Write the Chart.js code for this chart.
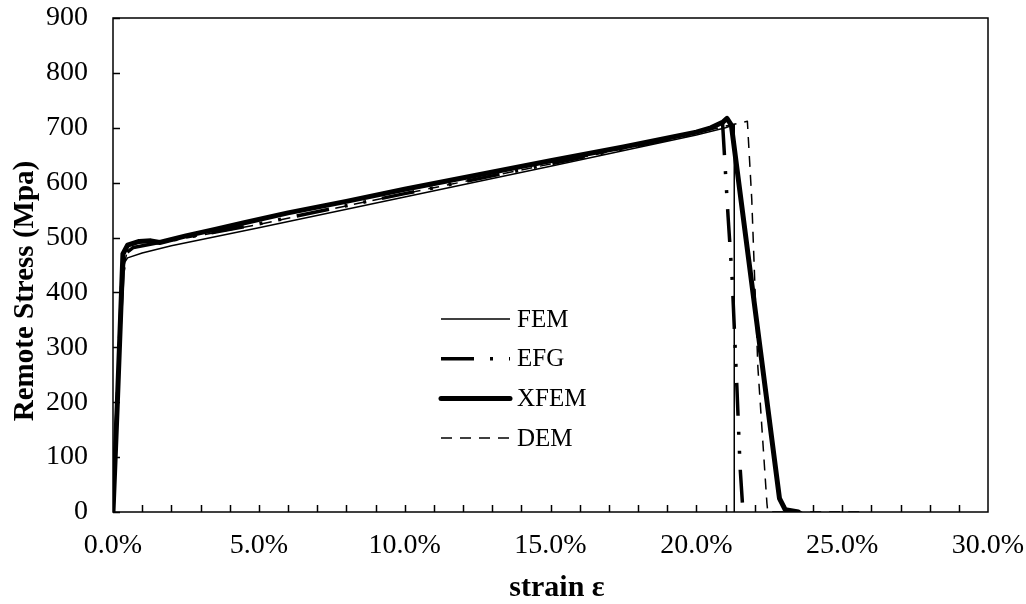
<!DOCTYPE html>
<html lang="en">
<head>
    <meta charset="UTF-8">
    <title>Remote Stress vs strain</title>
    <style>
        body {
            margin: 0;
            padding: 0;
            background-color: #ffffff;
        }
        #wrap {
            width: 1026px;
            height: 604px;
        }
    </style>
</head>
<body>

    <div id="wrap">
        <canvas id="myChart" width="1026" height="604"></canvas>
    </div>

    <script src="https://cdn.jsdelivr.net/npm/chart.js"></script>
    <script>
        // ค่าที่อ่านจากกราฟ (strain เป็น %, stress เป็น MPa)
        const seriesNames = ['FEM', 'EFG', 'XFEM', 'DEM'];

        const femStrain = [0, 0.2, 0.4, 0.5, 1, 2, 5, 10, 15, 20, 21.0, 21.3, 21.3];
        const femStress = [0, 260, 455, 463, 472, 485, 518, 574, 630, 687, 700, 706, 0];

        const efgStrain = [0, 0.3, 0.45, 0.7, 1.5, 3, 5, 10, 15, 20, 20.7, 20.9, 20.95, 21.09, 21.23, 21.39, 21.5, 21.6];
        const efgStress = [0, 420, 472, 482, 490, 505, 525, 580, 634, 690, 703, 708, 663, 537, 423, 228, 82, 0];

        const xfemStrain = [0, 0.15, 0.34, 0.5, 0.9, 1.3, 1.6, 2.5, 3.5, 4.5, 6, 8, 10, 12.5, 15, 17.5, 20, 20.5, 20.9, 21.05, 21.2, 22.85, 23.05, 23.5];
        const xfemStress = [0, 200, 470, 486, 493, 494, 491, 503, 515, 527, 545, 566, 588, 614, 640, 665, 692, 700, 710, 717, 705, 25, 4, 0];

        const demStrain = [0, 0.3, 0.5, 1, 2, 5, 10, 15, 20, 21, 21.75, 21.9, 22.11, 22.42, 22.45, 25.6];
        const demStress = [0, 430, 478, 485, 494, 524, 580, 634, 690, 703, 712, 570, 264, 16, 0, 0];

        const xTicks = [0, 5, 10, 15, 20, 25, 30];
        const yTicks = [0, 100, 200, 300, 400, 500, 600, 700, 800, 900];

        const xTitle = 'strain ε';
        const yTitle = 'Remote Stress (Mpa)';

        const serif = "'Liberation Serif', 'Times New Roman', serif";

        function toPoints(xs, ys) {
            return xs.map((x, i) => ({ x: x, y: ys[i] }));
        }

        const ctx = document.getElementById('myChart').getContext('2d');

        // กรอบ, ขีดสเกล, ชื่อแกน และ legend วาดเอง
        const framePlugin = {
            id: 'frame',
            afterDraw(chart) {
                const c = chart.ctx;
                const area = chart.chartArea;
                const xs = chart.scales.x;
                const ys = chart.scales.y;
                c.save();
                c.strokeStyle = '#000';
                c.fillStyle = '#000';
                c.lineWidth = 1.5;
                c.setLineDash([]);
                c.strokeRect(area.left, area.top, area.right - area.left, area.bottom - area.top);

                // ขีดแกน y
                c.beginPath();
                yTicks.forEach(v => {
                    const py = Math.round(ys.getPixelForValue(v)) + 0.5;
                    c.moveTo(area.left, py);
                    c.lineTo(area.left + 7, py);
                });
                // ขีดแกน x ทุก 1%
                for (let v = 1; v < 30; v++) {
                    const px = Math.round(xs.getPixelForValue(v)) + 0.5;
                    c.moveTo(px, area.bottom);
                    c.lineTo(px, area.bottom - 7);
                }
                c.stroke();

                // ชื่อแกน
                c.font = 'bold 30px ' + serif;
                c.textAlign = 'center';
                c.textBaseline = 'middle';
                c.fillText(xTitle, 557, 588);
                c.save();
                c.translate(26, 291);
                c.rotate(-Math.PI / 2);
                c.font = 'bold 29px ' + serif;
                c.fillText(yTitle, 0, 0);
                c.restore();

                // legend
                const x0 = 441, x1 = 510;
                let y = 319;
                c.font = '25px ' + serif;
                c.textAlign = 'left';
                chart.data.datasets.forEach(ds => {
                    c.beginPath();
                    c.lineWidth = ds.borderWidth;
                    c.lineCap = ds.borderCapStyle || 'butt';
                    c.setLineDash(ds.borderDash || []);
                    c.moveTo(x0, y);
                    c.lineTo(x1, y);
                    c.stroke();
                    c.setLineDash([]);
                    c.fillText(ds.label, 517, y + 1);
                    y += 39.7;
                });
                c.restore();
            }
        };

        const myChart = new Chart(ctx, {
            type: 'line',
            data: {
                datasets: [
                    {
                        label: seriesNames[0],
                        data: toPoints(femStrain, femStress),
                        borderColor: '#000',
                        borderWidth: 1.5
                    },
                    {
                        label: seriesNames[1],
                        data: toPoints(efgStrain, efgStress),
                        borderColor: '#000',
                        borderWidth: 3.5,
                        borderDash: [33, 16, 3, 16, 3, 16]
                    },
                    {
                        label: seriesNames[2],
                        data: toPoints(xfemStrain, xfemStress),
                        borderColor: '#000',
                        borderWidth: 5,
                        borderCapStyle: 'round'
                    },
                    {
                        label: seriesNames[3],
                        data: toPoints(demStrain, demStress),
                        borderColor: '#000',
                        borderWidth: 1.5,
                        borderDash: [11, 8]
                    }
                ]
            },
            options: {
                responsive: false,
                animation: false,
                events: [],
                layout: {
                    padding: { left: 0, right: 38, top: 18, bottom: 0 }
                },
                elements: {
                    point: { radius: 0 },
                    line: { tension: 0, borderJoinStyle: 'round', fill: false }
                },
                scales: {
                    x: {
                        type: 'linear',
                        min: 0,
                        max: 30,
                        afterBuildTicks: s => { s.ticks = xTicks.map(v => ({ value: v })); },
                        afterFit: s => { s.height = 92; s.paddingLeft = 0; s.paddingRight = 0; },
                        grid: { display: false, drawTicks: false },
                        border: { display: false },
                        ticks: {
                            color: '#000',
                            padding: 17,
                            maxRotation: 0,
                            font: { family: serif, size: 28 },
                            callback: v => Number(v).toFixed(1) + '%'
                        }
                    },
                    y: {
                        min: 0,
                        max: 900,
                        afterBuildTicks: s => { s.ticks = yTicks.map(v => ({ value: v })); },
                        afterFit: s => { s.width = 113; s.paddingTop = 0; s.paddingBottom = 0; },
                        grid: { display: false, drawTicks: false },
                        border: { display: false },
                        ticks: {
                            color: '#000',
                            padding: 25,
                            font: { family: serif, size: 28 }
                        }
                    }
                },
                plugins: {
                    legend: { display: false },
                    tooltip: { enabled: false }
                }
            },
            plugins: [framePlugin]
        });
    </script>
</body>
</html>
